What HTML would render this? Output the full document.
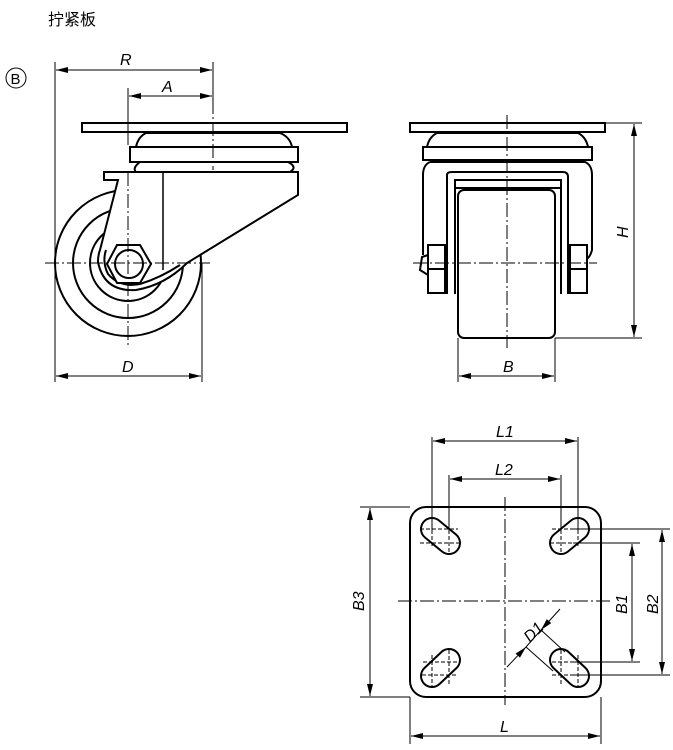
<!DOCTYPE html>
<html><head><meta charset="utf-8"><style>
html,body{margin:0;padding:0;background:#fff;}
svg{display:block;}
text{font-family:"Liberation Sans","Noto Sans CJK SC",sans-serif;fill:#000;}
.t{font-style:italic;font-size:16px;}
</style></head><body>
<svg width="673" height="750" viewBox="0 0 673 750" xmlns="http://www.w3.org/2000/svg">
<defs>
<marker id="a" viewBox="0 0 12 6" refX="12" refY="3" markerWidth="12" markerHeight="6" orient="auto-start-reverse" markerUnits="userSpaceOnUse"><path d="M0,0 L12,3 L0,6z" fill="#000"/></marker>
</defs>
<text x="48" y="25" font-size="16">拧紧板</text>
<circle cx="16" cy="78" r="10" fill="none" stroke="#000" stroke-width="1"/>
<text x="10.5" y="84" font-size="15">B</text>

<g fill="none" stroke="#000" stroke-width="1">
<line x1="55" y1="62" x2="55" y2="382"/>
<line x1="213" y1="62" x2="213" y2="100"/>
<line x1="128" y1="88" x2="128" y2="145"/>
<line x1="202" y1="263" x2="202" y2="382"/>
<line x1="56" y1="70" x2="212" y2="70" marker-start="url(#a)" marker-end="url(#a)"/>
<line x1="129" y1="96" x2="212" y2="96" marker-start="url(#a)" marker-end="url(#a)"/>
<line x1="56" y1="376" x2="201" y2="376" marker-start="url(#a)" marker-end="url(#a)"/>
<line x1="213" y1="100" x2="213" y2="170" stroke-dasharray="14,3,2,3"/>
</g>

<g fill="none" stroke="#000" stroke-width="2">
<rect x="82" y="123" width="265" height="9"/>
<path d="M146,133 L280,133 Q290,137 292,147 L298,147 L298,162 L130,162 L130,147 L136,147 Q138,137 146,133"/>
<line x1="130" y1="147" x2="298" y2="147"/>
<path d="M140,162 Q132,168 136,172 M290,172 Q298,167 288,162"/>
<circle cx="128" cy="263" r="73" fill="#fff"/>
<circle cx="128" cy="263" r="55"/>
<circle cx="128" cy="263" r="38"/>
<path d="M104,172 L298,172 L298,195 L187,263 Q165,285 136,290 Q104,292 98,262 Q98,255 100,250 L118,180 L104,180 Z" fill="#fff"/>
<path d="M106,250 Q102,262 108,274 Q120,288 140,284 Q160,278 180,265"/>
<polygon points="107,264 117,245 140,245 151,264 140,283 117,283" fill="#fff"/>
<circle cx="129" cy="264" r="14"/>
</g>
<line x1="128" y1="172" x2="128" y2="345" stroke="#000" stroke-dasharray="14,3,2,3"/>
<line x1="45" y1="263" x2="210" y2="263" stroke="#000" stroke-dasharray="14,3,2,3"/>
<line x1="163" y1="173" x2="163" y2="270" stroke="#000" stroke-width="1.5"/>
<text class="t" x="120" y="65">R</text>
<text class="t" x="162" y="92">A</text>
<text class="t" x="122" y="372">D</text>

<!-- right view -->
<g fill="none" stroke="#000" stroke-width="2">
<rect x="410" y="123" width="195" height="9"/>
<path d="M437,133 L578,133 Q586,137 588,147 L592,147 L592,160 L423,160 L423,147 L427,147 Q429,137 437,133"/>
<line x1="423" y1="147" x2="592" y2="147"/>
<path d="M430,162 L585,162 Q592,165 592,175 L592,250 Q590,258 585,260 M430,162 Q423,165 423,175 L423,255"/>
<path d="M447,294 L447,175 Q447,172 452,172 L563,172 Q568,172 568,177 L568,294"/>
<path d="M455,294 L455,180 L561,180 L561,294"/>
<line x1="455" y1="188" x2="561" y2="188"/>
<rect x="458" y="190" width="97" height="148" rx="6" fill="#fff"/>
<rect x="428" y="245" width="17" height="48" fill="#fff"/>
<rect x="570" y="245" width="17" height="48" fill="#fff"/>
<line x1="428" y1="269" x2="445" y2="269"/>
<line x1="570" y1="269" x2="587" y2="269"/>
<path d="M428,255 L422,257 L420,270 L428,275"/>
</g>
<g fill="none" stroke="#000" stroke-width="1">
<line x1="507" y1="115" x2="507" y2="348" stroke-dasharray="14,3,2,3"/>
<line x1="413" y1="263" x2="597" y2="263" stroke-dasharray="14,3,2,3"/>
<line x1="605" y1="123" x2="642" y2="123"/>
<line x1="555" y1="338" x2="642" y2="338"/>
<line x1="634" y1="124" x2="634" y2="337" marker-start="url(#a)" marker-end="url(#a)"/>
<line x1="458" y1="338" x2="458" y2="382"/>
<line x1="555" y1="338" x2="555" y2="382"/>
<line x1="459" y1="376" x2="554" y2="376" marker-start="url(#a)" marker-end="url(#a)"/>
</g>
<text class="t" transform="translate(628,238) rotate(-90)">H</text>
<text class="t" x="503" y="372">B</text>

<!-- bottom plate -->
<rect x="410" y="507" width="191" height="190" rx="16" fill="none" stroke="#000" stroke-width="2"/>
<g stroke-linecap="round">
<g stroke="#000" stroke-width="24">
<line x1="432" y1="529" x2="449" y2="543"/><line x1="578" y1="529" x2="561" y2="543"/>
<line x1="449" y1="660" x2="432" y2="676"/><line x1="561" y1="660" x2="578" y2="676"/>
</g>
<g stroke="#fff" stroke-width="20">
<line x1="432" y1="529" x2="449" y2="543"/><line x1="578" y1="529" x2="561" y2="543"/>
<line x1="449" y1="660" x2="432" y2="676"/><line x1="561" y1="660" x2="578" y2="676"/>
</g>
</g>
<g fill="none" stroke="#000" stroke-width="1">
<line x1="505" y1="497" x2="505" y2="705" stroke-dasharray="14,3,2,3"/>
<line x1="398" y1="601" x2="612" y2="601" stroke-dasharray="14,3,2,3"/>
<line x1="432" y1="437" x2="432" y2="530"/><line x1="432" y1="530" x2="432" y2="548" stroke-dasharray="4,2"/>
<line x1="578" y1="437" x2="578" y2="530"/><line x1="578" y1="530" x2="578" y2="548" stroke-dasharray="4,2"/>
<line x1="449" y1="475" x2="449" y2="530"/><line x1="449" y1="530" x2="449" y2="552" stroke-dasharray="4,2"/>
<line x1="561" y1="475" x2="561" y2="530"/><line x1="561" y1="530" x2="561" y2="552" stroke-dasharray="4,2"/>
<line x1="420" y1="529" x2="458" y2="529" stroke-dasharray="4,2"/><line x1="420" y1="543" x2="460" y2="543" stroke-dasharray="4,2"/>
<line x1="423" y1="662" x2="460" y2="662" stroke-dasharray="4,2"/><line x1="422" y1="675" x2="458" y2="675" stroke-dasharray="4,2"/>
<line x1="432" y1="655" x2="432" y2="688" stroke-dasharray="4,2"/><line x1="449" y1="650" x2="449" y2="685" stroke-dasharray="4,2"/>
<line x1="561" y1="650" x2="561" y2="685" stroke-dasharray="4,2"/><line x1="578" y1="655" x2="578" y2="688" stroke-dasharray="4,2"/>
<line x1="552" y1="529" x2="573" y2="529" stroke-dasharray="4,2"/><line x1="550" y1="543" x2="573" y2="543" stroke-dasharray="4,2"/>
<line x1="552" y1="662" x2="573" y2="662" stroke-dasharray="4,2"/><line x1="552" y1="675" x2="573" y2="675" stroke-dasharray="4,2"/>
<line x1="433" y1="441" x2="577" y2="441" marker-start="url(#a)" marker-end="url(#a)"/>
<line x1="450" y1="479" x2="560" y2="479" marker-start="url(#a)" marker-end="url(#a)"/>
<line x1="360" y1="507" x2="410" y2="507"/><line x1="360" y1="697" x2="410" y2="697"/>
<line x1="370" y1="508" x2="370" y2="696" marker-start="url(#a)" marker-end="url(#a)"/>
<line x1="573" y1="529" x2="670" y2="529"/><line x1="573" y1="675" x2="670" y2="675"/>
<line x1="573" y1="543" x2="640" y2="543"/><line x1="573" y1="662" x2="640" y2="662"/>
<line x1="632" y1="544" x2="632" y2="661" marker-start="url(#a)" marker-end="url(#a)"/>
<line x1="662" y1="530" x2="662" y2="674" marker-start="url(#a)" marker-end="url(#a)"/>
<line x1="410" y1="697" x2="410" y2="744"/><line x1="601" y1="697" x2="601" y2="744"/>
<line x1="411" y1="736" x2="600" y2="736" marker-start="url(#a)" marker-end="url(#a)"/>
<line x1="541" y1="630" x2="565" y2="652"/>
<line x1="526" y1="647" x2="553" y2="671"/>
<line x1="560" y1="609" x2="541" y2="630" marker-end="url(#a)"/>
<line x1="507" y1="667" x2="526" y2="647" marker-end="url(#a)"/>
<line x1="541" y1="630" x2="526" y2="647"/>
</g>
<text class="t" x="496" y="437">L1</text>
<text class="t" x="495" y="475">L2</text>
<text class="t" x="500" y="732">L</text>
<text class="t" transform="translate(364,611) rotate(-90)">B3</text>
<text class="t" transform="translate(627,614) rotate(-90)">B1</text>
<text class="t" transform="translate(658,614) rotate(-90)">B2</text>
<text class="t" transform="translate(530,643) rotate(-45)">D1</text>
</svg>
</body></html>
